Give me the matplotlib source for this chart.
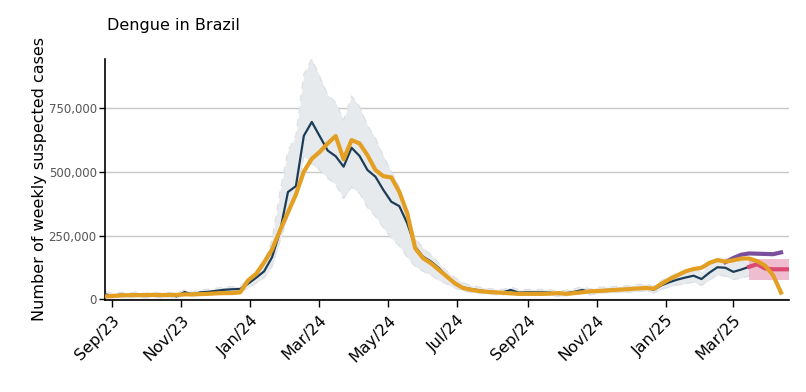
import numpy as np
import pandas as pd
import matplotlib
matplotlib.use("Agg")
import matplotlib.pyplot as plt
import matplotlib.dates as mdates
from matplotlib.ticker import FuncFormatter

# weekly values, in thousands of cases
observed = [20, 14, 19, 15, 21, 14, 20, 15, 19, 12, 29, 20, 28, 30, 34, 38, 40, 41,
            62, 85, 110, 165, 265, 420, 443, 640, 694, 638, 582, 560, 519, 593, 561,
            506, 480, 428, 382, 365, 298, 206, 167, 148, 122, 89, 62, 47, 41, 36, 32,
            29, 28, 37, 27, 28, 28, 28, 27, 21, 25, 30, 37, 29, 36, 37, 38, 39, 41,
            44, 46, 38, 56, 68, 78, 86, 93, 80, 105, 126, 124, 108, 117, 128]
obs_upper = [30, 24, 28, 25, 30, 24, 29, 25, 28, 22, 38, 30, 37, 40, 44, 48, 50, 52,
             80, 108, 150, 230, 420, 580, 640, 880, 940, 870, 800, 770, 700, 795, 755,
             680, 630, 560, 500, 440, 320, 240, 200, 175, 140, 110, 85, 65, 55, 48, 44,
             40, 39, 48, 38, 39, 39, 39, 38, 32, 36, 42, 49, 41, 48, 49, 50, 52, 54,
             58, 61, 52, 74, 90, 102, 112, 120, 108, 135, 160, 162, 145, 150, 152]
obs_lower = [10, 6, 10, 7, 12, 6, 11, 7, 10, 5, 19, 11, 18, 20, 24, 27, 29, 30,
             45, 65, 85, 130, 230, 330, 410, 560, 530, 505, 475, 450, 395, 440, 415,
             360, 325, 280, 240, 210, 165, 130, 110, 95, 75, 60, 45, 33, 28, 25, 22,
             19, 18, 26, 17, 18, 18, 18, 17, 12, 15, 19, 26, 18, 25, 26, 27, 28, 29,
             32, 33, 26, 40, 50, 57, 62, 68, 55, 77, 95, 92, 78, 84, 92]
estimate = [12, 14, 16, 17, 17, 17, 18, 17, 18, 18, 20, 20, 21, 22, 24, 25, 25, 28,
            75, 100, 145, 195, 270, 340, 410, 500, 550, 577, 610, 639, 548, 623, 610,
            564, 506, 482, 477, 421, 337, 200, 161, 141, 115, 89, 63, 45, 38, 33, 30,
            28, 26, 24, 22, 22, 22, 22, 23, 25, 22, 25, 28, 32, 33, 35, 37, 39, 41,
            43, 45, 42, 62, 80, 95, 110, 119, 124, 143, 154, 148, 153, 160, 160, 150,
            132, 95, 27]
nowcast = [146, 162, 175, 180, 179, 178, 177, 184]
forecast = [128, 138, 121, 118, 118, 118]
fc_lower = [78, 78, 78, 78, 78, 78]
fc_upper = [158, 158, 158, 158, 158, 158]

weeks = pd.date_range("2023-08-26", periods=87, freq="7D")
t_obs = weeks[:len(observed)]
t_est = weeks[:len(estimate)]
t_now = weeks[78:78 + len(nowcast)]
t_fc = weeks[81:81 + len(forecast)]

k = 1000
fig = plt.figure(figsize=(8.06, 3.92), dpi=100)
ax = fig.add_axes([0.1303, 0.2347, 0.8486, 0.6148])

ax.fill_between(t_obs, np.array(obs_lower) * k, np.array(obs_upper) * k,
                color="#e7eaed", lw=0, zorder=1)
ax.plot(t_obs, np.array(obs_upper) * k, color="#dde1e5", lw=1, ls=(0, (5, 4)), zorder=1.5)
ax.plot(t_obs, np.array(obs_lower) * k, color="#dde1e5", lw=1, ls=(0, (5, 4)), zorder=1.5)
ax.plot(t_obs, np.array(observed) * k, color="#1d3d57", lw=1.6, zorder=3)

ax.fill_between(t_fc, np.array(fc_lower) * k, np.array(fc_upper) * k,
                color="#e9a9c1", alpha=0.75, lw=0, zorder=2)
ax.plot(t_now, np.array(nowcast) * k, color="#7a4f9d", lw=3, zorder=4)
ax.plot(t_fc, np.array(forecast) * k, color="#dc4a73", lw=3, zorder=4)
ax.plot(t_est, np.array(estimate) * k, color="#e39f22", lw=3, zorder=5)

ax.set_ylim(-2000, 940000)
ax.set_xlim(pd.Timestamp("2023-08-26"), pd.Timestamp("2025-04-19"))
ax.set_yticks([0, 250000, 500000, 750000])
ax.yaxis.set_major_formatter(FuncFormatter(lambda v, p: f"{int(v):,}"))
ax.grid(axis="y", color="#c8c8c8", lw=1)
ax.set_axisbelow(True)

ax.xaxis.set_major_locator(mdates.MonthLocator(bymonth=[1, 3, 5, 7, 9, 11]))
ax.xaxis.set_major_formatter(mdates.DateFormatter("%b/%y"))
plt.setp(ax.get_xticklabels(), rotation=45, ha="right", rotation_mode="anchor",
         fontsize=11.5, color="black")
ax.tick_params(axis="x", length=5, width=1, pad=4)
ax.tick_params(axis="y", length=4, width=1, labelsize=8.5, labelcolor="#555555", pad=2)

for s in ["top", "right"]:
    ax.spines[s].set_visible(False)
ax.spines["left"].set_linewidth(1.2)
ax.spines["bottom"].set_linewidth(1.2)

ax.set_ylabel("Number of weekly suspected cases", fontsize=11.5, labelpad=1)
fig.text(0.1327, 0.935, "Dengue in Brazil", fontsize=11.5, ha="left", va="center")

fig.savefig("out.png", dpi=100)
